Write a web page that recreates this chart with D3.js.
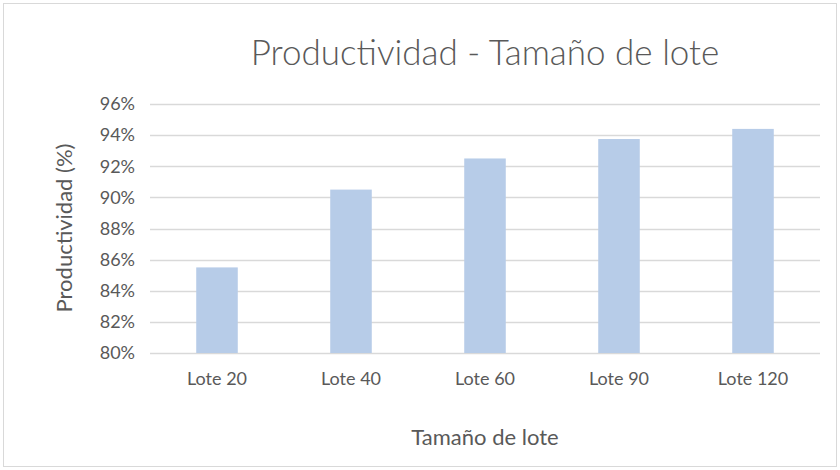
<!DOCTYPE html>
<html>
<head>
<meta charset="utf-8">
<script src="https://cdn.jsdelivr.net/npm/d3@7"></script>
<style>
  html, body { margin: 0; padding: 0; background: #fff; overflow: hidden; }
  svg { display: block; }
  text { font-family: Lato, "Open Sans", sans-serif; fill: #595959; }
</style>
</head>
<body>
<div class="chart"></div>
<script>
const width = 840;
const height = 470;
const margin = { top: 104, right: 20, bottom: 117, left: 150 };
const innerWidth = width - margin.left - margin.right;
const innerHeight = height - margin.top - margin.bottom;

const categories = ["Lote 20", "Lote 40", "Lote 60", "Lote 90", "Lote 120"];
const productividad = [0.855, 0.905, 0.925, 0.9375, 0.944];
const yTicks = [0.80, 0.82, 0.84, 0.86, 0.88, 0.90, 0.92, 0.94, 0.96];

const svg = d3.select(".chart")
  .append("svg")
  .attr("width", width)
  .attr("height", height);

svg.append("rect")
  .attr("x", 3.5)
  .attr("y", 3.5)
  .attr("width", width - 7)
  .attr("height", height - 7)
  .attr("fill", "#fff")
  .attr("stroke", "#d9d9d9");

const g = svg.append("g")
  .attr("transform", `translate(${margin.left},${margin.top})`);

const x = d3.scaleBand()
  .domain(categories)
  .range([0, innerWidth])
  .paddingInner(0.69)
  .paddingOuter(0.345);

const y = d3.scaleLinear()
  .domain([0.80, 0.96])
  .range([innerHeight, 0]);

// gridlines
g.append("g")
  .selectAll("line")
  .data(yTicks)
  .enter()
  .append("line")
  .attr("x1", 0)
  .attr("x2", innerWidth)
  .attr("y1", d => Math.round(y(d)) + 0.5)
  .attr("y2", d => Math.round(y(d)) + 0.5)
  .attr("stroke", "#d9d9d9")
  .attr("stroke-width", 1.3);

g.selectAll("rect.bar")
  .data(productividad)
  .enter()
  .append("rect")
  .attr("class", "bar")
  .attr("x", (d, i) => x(categories[i]))
  .attr("y", d => y(d))
  .attr("width", x.bandwidth())
  .attr("height", d => innerHeight - y(d))
  .attr("fill", "#b7cce8");

const yAxis = d3.axisLeft(y)
  .tickValues(yTicks)
  .tickFormat(d3.format(".0%"))
  .tickSize(0)
  .tickPadding(15);

g.append("g")
  .call(yAxis)
  .attr("font-size", 18)
  .attr("font-family", "Lato, 'Open Sans', sans-serif")
  .call(a => a.select(".domain").remove())
  .selectAll("text")
  .attr("fill", "#595959");

const xAxis = d3.axisBottom(x).tickSize(0).tickPadding(19);

g.append("g")
  .attr("transform", `translate(0,${innerHeight})`)
  .call(xAxis)
  .attr("font-size", 18)
  .attr("font-family", "Lato, 'Open Sans', sans-serif")
  .call(a => a.select(".domain").remove())
  .selectAll("text")
  .attr("fill", "#595959");

svg.append("text")
  .attr("x", 485)
  .attr("y", 65)
  .attr("text-anchor", "middle")
  .attr("font-size", 35)
  .style("font-weight", 300)
  .text("Productividad - Tamaño de lote");

svg.append("text")
  .attr("x", 485)
  .attr("y", 445)
  .attr("text-anchor", "middle")
  .attr("font-size", 22)
  .text("Tamaño de lote");

svg.append("text")
  .attr("transform", "translate(72,228) rotate(-90)")
  .attr("text-anchor", "middle")
  .attr("font-size", 22)
  .text("Productividad (%)");
</script>
</body>
</html>
